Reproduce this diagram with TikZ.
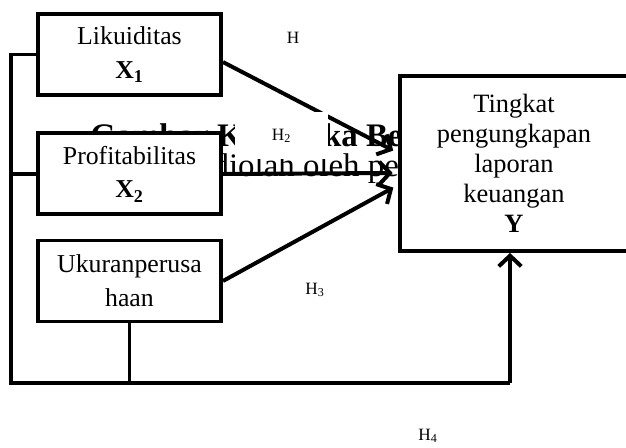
\documentclass[tikz,border=0pt]{standalone}
\usepackage{fontspec}
\setmainfont{Liberation Serif}
\usepackage{tikz}
\usetikzlibrary{arrows.meta}
\usetikzlibrary{calc}

\pgfdeclarelayer{bg}
\pgfdeclarelayer{mid}
\pgfsetlayers{bg,mid,main}

\begin{document}
\begin{tikzpicture}[line width=3pt,
        box_style/.style={rectangle,draw=black,fill=white,line width=3pt,inner sep=0pt,minimum width=4.842cm,minimum height=2.143cm,align=center,font=\fontsize{19.4}{25.5}\selectfont},
        ybox_style/.style={rectangle,draw=black,fill=white,line width=3pt,inner sep=0pt,minimum width=6.032cm,minimum height=4.630cm,align=center,font=\fontsize{19.9}{22.5}\selectfont},
        label_style/.style={inner sep=0pt,font=\fontsize{13}{15}\selectfont},
        patch_style/.style={fill=white,inner sep=0pt,minimum width=2.461cm,minimum height=1.244cm,font=\fontsize{13}{15}\selectfont},
        note_style/.style={inner sep=0pt,anchor=base west,font=\fontsize{24.75}{30}\selectfont},
        line_style/.style={draw=black,line width=2.4pt},
        edge_style/.style={draw=black,line width=3pt,-{Straight Barb[length=8pt,width=17pt]},shorten >=4pt}]

        \useasboundingbox (0,0) rectangle (16.563,11.853);

        \node [box_style](x1) at (3.426,10.411) {Likuiditas\\\textbf{X\textsubscript{1}}};

        \node [box_style](x2) at (3.426,7.250) {Profitabilitas\\\textbf{X\textsubscript{2}}};

        \node [box_style](x3) at (3.426,4.418) {Ukuranperusa\\haan};

        \node [ybox_style](yb) at (13.599,7.527) {Tingkat\\pengungkapan\\laporan\\keuangan\\\textbf{Y}};

        \coordinate (lb) at (0.291,1.720);
        \coordinate (rb) at (13.494,1.720);

        % text left behind the boxes
        \begin{pgfonlayer}{bg}
        \node [note_style](t1) at (2.381,7.964) {\textbf{Gambar Kerangka Berpikir}};
        \node [note_style](t2) at (2.381,7.170) {Sumber: diolah oleh penulis};
        \draw [edge_style] ([yshift=-0.2cm]x1.east) -- ([yshift=0.278cm]yb.west);
        \end{pgfonlayer}

        \begin{pgfonlayer}{mid}
        \node [patch_style](h2) at (7.448,8.255) {H\textsubscript{2}};
        \end{pgfonlayer}

        \node [label_style](h1) at (7.752,10.848) {H};

        \node [label_style](h3) at (8.334,4.180) {H\textsubscript{3}};

        \node [label_style](h4) at (11.324,0.318) {H\textsubscript{4}};

        \draw [edge_style] (x2.east) -- ([yshift=-0.25cm]yb.west);

        \draw [edge_style] (x3.east) -- ([yshift=-0.57cm]yb.west);

        \draw [line_style] (x1.west) -| (lb) -- (rb);

        \draw [line_style] (x2.west) -- (x2.west -| lb);

        \draw [line_style] (x3.south) -- (x3.south |- lb);

        \draw [edge_style,shorten >=0pt] (rb) -- (rb |- yb.south);

        \end{tikzpicture}
\end{document}
